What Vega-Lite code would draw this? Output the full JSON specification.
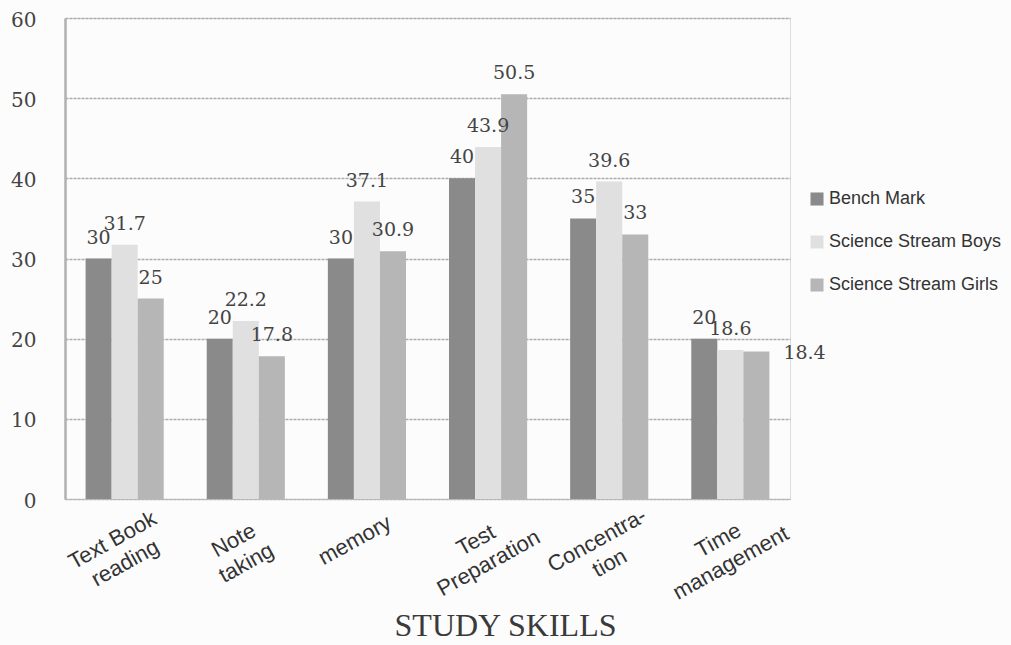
{
  "$schema": "https://vega.github.io/schema/vega-lite/v6.json",
  "width": 725,
  "height": 481,
  "autosize": {"type": "none"},
  "padding": {"left": 65, "top": 18, "right": 221, "bottom": 146},
  "background": "#fcfcfc",
  "data": {
    "values": [
      {"skill": "Text Book|reading", "series": "Bench Mark", "value": 30},
      {"skill": "Text Book|reading", "series": "Science Stream Boys", "value": 31.7},
      {"skill": "Text Book|reading", "series": "Science Stream Girls", "value": 25},
      {"skill": "Note|taking", "series": "Bench Mark", "value": 20},
      {"skill": "Note|taking", "series": "Science Stream Boys", "value": 22.2},
      {"skill": "Note|taking", "series": "Science Stream Girls", "value": 17.8},
      {"skill": "memory", "series": "Bench Mark", "value": 30},
      {"skill": "memory", "series": "Science Stream Boys", "value": 37.1},
      {"skill": "memory", "series": "Science Stream Girls", "value": 30.9},
      {"skill": "Test|Preparation", "series": "Bench Mark", "value": 40},
      {"skill": "Test|Preparation", "series": "Science Stream Boys", "value": 43.9},
      {"skill": "Test|Preparation", "series": "Science Stream Girls", "value": 50.5},
      {"skill": "Concentra-|tion", "series": "Bench Mark", "value": 35},
      {"skill": "Concentra-|tion", "series": "Science Stream Boys", "value": 39.6},
      {"skill": "Concentra-|tion", "series": "Science Stream Girls", "value": 33},
      {"skill": "Time|management", "series": "Bench Mark", "value": 20},
      {"skill": "Time|management", "series": "Science Stream Boys", "value": 18.6},
      {"skill": "Time|management", "series": "Science Stream Girls", "value": 18.4}
    ]
  },
  "encoding": {
    "x": {
      "field": "skill",
      "type": "nominal",
      "sort": null,
      "scale": {"paddingInner": 0.355, "paddingOuter": 0.17},
      "axis": {
        "title": "STUDY SKILLS",
        "titleFont": "Liberation Serif",
        "titleFontSize": 32,
        "titleFontWeight": "normal",
        "titleColor": "#3a3a3a",
        "titleX": 440,
        "titleY": 136,
        "titleBaseline": "alphabetic",
        "titleAlign": "center",
        "labelExpr": "split(datum.label, '|')",
        "labelAngle": -29,
        "labelAlign": "center",
        "labelBaseline": "top",
        "labelFont": "Liberation Sans",
        "labelFontSize": 22,
        "labelColor": "#333333",
        "labelLineHeight": 26,
        "labelPadding": 32,
        "labelOffset": -17,
        "labelOverlap": false,
        "ticks": false,
        "domain": true,
        "domainColor": "#b8b8b8",
        "grid": false
      }
    },
    "xOffset": {
      "field": "series",
      "type": "nominal",
      "sort": ["Bench Mark", "Science Stream Boys", "Science Stream Girls"]
    },
    "y": {
      "field": "value",
      "type": "quantitative",
      "scale": {"domain": [0, 60]},
      "axis": {
        "title": null,
        "values": [0, 10, 20, 30, 40, 50, 60],
        "labelFont": "DejaVu Serif",
        "labelFontSize": 20,
        "labelColor": "#444444",
        "labelPadding": 29,
        "labelBaseline": "middle",
        "labelOffset": 2,
        "ticks": false,
        "domain": true,
        "domainColor": "#b0b0b0",
        "domainWidth": 2.5,
        "grid": true,
        "gridColor": "#acacac",
        "gridDash": [3, 1],
        "gridWidth": 1.5
      }
    }
  },
  "layer": [
    {
      "mark": {"type": "bar"},
      "encoding": {
        "color": {
          "field": "series",
          "type": "nominal",
          "sort": ["Bench Mark", "Science Stream Boys", "Science Stream Girls"],
          "scale": {
            "domain": ["Bench Mark", "Science Stream Boys", "Science Stream Girls"],
            "range": ["#8a8a8a", "#e0e0e0", "#b6b6b6"]
          },
          "legend": {
            "title": null,
            "orient": "none",
            "legendX": 743,
            "legendY": 172,
            "symbolType": "square",
            "symbolSize": 170,
            "symbolStrokeWidth": 0,
            "labelFont": "Liberation Sans",
            "labelFontSize": 18,
            "labelColor": "#333333",
            "labelLimit": 0,
            "rowPadding": 25,
            "labelOffset": 3
          }
        }
      }
    },
    {
      "transform": [{"filter": "!(datum.skill == 'Time|management' && datum.series == 'Science Stream Girls')"}],
      "mark": {
        "type": "text",
        "baseline": "alphabetic",
        "dy": -15,
        "font": "DejaVu Serif",
        "fontSize": 19,
        "color": "#444444"
      },
      "encoding": {
        "text": {"field": "value", "type": "quantitative"}
      }
    },
    {
      "transform": [{"filter": "datum.skill == 'Time|management' && datum.series == 'Science Stream Girls'"}],
      "mark": {
        "type": "text",
        "align": "left",
        "baseline": "middle",
        "dx": 27,
        "dy": 2,
        "font": "DejaVu Serif",
        "fontSize": 19,
        "color": "#444444"
      },
      "encoding": {
        "text": {"field": "value", "type": "quantitative"}
      }
    }
  ]
}
